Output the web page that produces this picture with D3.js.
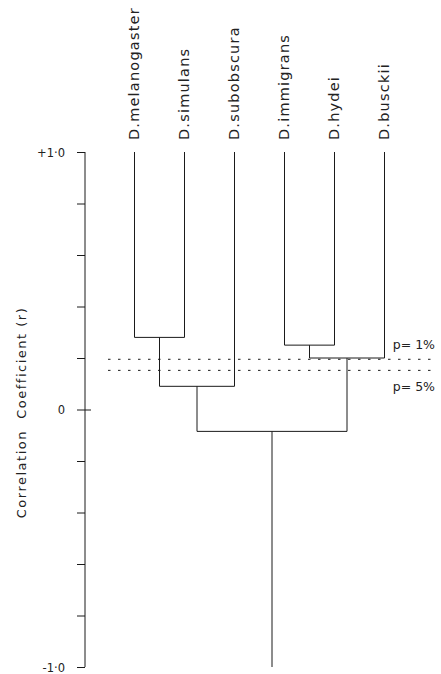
<!DOCTYPE html>
<html><head><meta charset="utf-8">
<script src="https://cdn.jsdelivr.net/npm/d3@7"></script>
<style>
html,body{margin:0;padding:0;background:#fff;}
svg text{font-family:"DejaVu Sans",sans-serif;fill:#222;}
</style></head>
<body>
<svg id="chart" width="441" height="674"></svg>
<script>
// ---- data ----
const leaves = ["D.melanogaster","D.simulans","D.subobscura","D.immigrans","D.hydei","D.busckii"];
const leafTop = 1.0;
const nodeIds   = ["n1","n2","n3","n4","root"];
const nodeLeft  = ["D.melanogaster","D.immigrans","n1","n2","n3"];
const nodeRight = ["D.simulans","D.hydei","D.subobscura","D.busckii","n4"];
const nodeR     = [0.28, 0.25, 0.09, 0.20, -0.085];
const rootEnd   = -1.0;
const thresholdR = [0.195, 0.152];
const thresholdLabels = ["p= 1%","p= 5%"];
const yTicks = [-1,-0.8,-0.6,-0.4,-0.2,0,0.2,0.4,0.6,0.8,1];
const yTickLabels = {"1":"+1·0","0":"0","-1":"-1·0"};
const yTitle = "Correlation  Coefficient (r)";

// ---- layout ----
const svg = d3.select("#chart");
const y = d3.scaleLinear().domain([-1,1]).range([667,152]);
const x = d3.scalePoint().domain(leaves).range([134.5,384.5]);
const axisX = 85;

// axis
const g = svg.append("g").attr("transform",`translate(${axisX},0)`);
const axis = d3.axisLeft(y).tickValues(yTicks).tickSize(8).tickFormat(d=>yTickLabels[String(d)]||"");
g.call(axis);
g.select(".domain").attr("d",`M0,${y(1)}V${y(-1)}`).attr("stroke","#1a1a1a").attr("stroke-width",1);
g.selectAll(".tick line").attr("stroke","#1a1a1a");
g.selectAll(".tick").filter(d=>d===0).select("line").attr("x1",6);
g.selectAll(".tick text").attr("font-size",11.5).attr("x",-20).attr("dy","0.36em").attr("fill","#222").style("font-family","DejaVu Sans");

// y title
svg.append("text").attr("transform",`translate(26,${y(0)+3}) rotate(-90)`)
  .attr("text-anchor","middle").attr("font-size",13).attr("letter-spacing",1.5)
  .style("white-space","pre").text(yTitle);

// dendrogram
const pos = {};
leaves.forEach(l=>pos[l]={x:x(l), r:leafTop});
nodeIds.forEach((id,i)=>{
  const a=pos[nodeLeft[i]], b=pos[nodeRight[i]];
  pos[id]={x:(a.x+b.x)/2, r:nodeR[i], a, b};
});
const lines = svg.append("g").attr("stroke","#1a1a1a").attr("stroke-width",1).attr("fill","none");
nodeIds.forEach(id=>{
  const n=pos[id];
  [n.a,n.b].forEach(c=>{
    lines.append("path").attr("d",`M${c.x},${y(c.r)}V${y(n.r)}`);
  });
  lines.append("path").attr("d",`M${n.a.x},${y(n.r)}H${n.b.x}`);
});
const root=pos["root"];
lines.append("path").attr("d",`M${root.x},${y(root.r)}V${y(rootEnd)}`);

// leaf labels
leaves.forEach(l=>{
  svg.append("text").attr("transform",`translate(${x(l)+4.5},${y(leafTop)-12}) rotate(-90)`)
    .attr("font-size",14.5).attr("letter-spacing",1.2).text(l);
});

// threshold lines
thresholdR.forEach((r,i)=>{
  svg.append("line").attr("x1",108).attr("x2",434).attr("y1",y(r)).attr("y2",y(r))
    .attr("stroke","#1a1a1a").attr("stroke-width",1).attr("stroke-dasharray","2.5,7.5");
  svg.append("text").attr("x",435).attr("y", i===0 ? y(r)-10 : y(r)+21)
    .attr("text-anchor","end").attr("font-size",12.5).text(thresholdLabels[i]);
});
</script>
</body></html>
